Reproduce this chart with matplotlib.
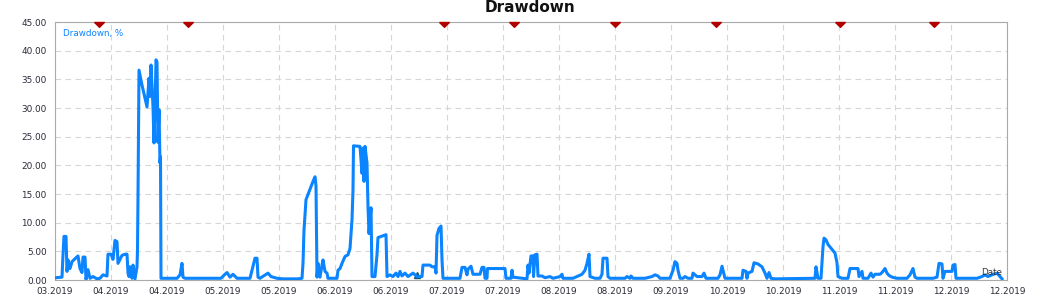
import matplotlib
matplotlib.use("Agg")
import matplotlib.pyplot as plt

# --------- DATA ---------
# sample index along the history (ticks every 56 samples)
dd_x = [1, 7, 8, 9, 11, 12, 13, 15, 17, 23, 25, 27, 28, 30, 31, 33, 35, 38, 42, 45,
        48, 52, 53, 56, 58, 60, 62, 63, 67, 70, 72, 73, 74, 75, 77, 78, 80, 82, 82.5, 83,
        84, 87, 92, 94, 95, 96, 98, 99, 100, 101, 102, 103, 104, 105, 105.5, 106, 122, 125, 127, 128,
        130, 166, 170, 172, 175, 178, 182, 195, 197, 200, 202, 203, 205, 213, 216, 218, 222, 228, 243, 247,
        248, 249, 251, 258, 260, 261, 262, 263, 265, 267, 268, 270, 272, 273, 282, 283, 285, 287, 290, 293,
        295, 297, 298, 298.5, 305, 307, 308, 309, 310, 312, 313, 314, 316, 317, 320, 322, 323, 331, 332, 335,
        338, 341, 343, 345, 347, 350, 353, 358, 362, 367, 368, 375, 377, 380, 381, 382, 384, 386, 387, 388,
        405, 407, 410, 412, 413, 416, 418, 425, 427, 429, 430, 432, 432.5, 450, 451, 456, 457, 458, 472, 473,
        474, 476, 478, 478.5, 480, 482, 483, 487, 490, 495, 498, 505, 507, 508, 518, 523, 527, 530, 532, 534,
        535, 540, 545, 547, 548, 552, 553, 555, 570, 572, 575, 576, 578, 590, 597, 600, 603, 605, 615, 618,
        620, 622, 623, 625, 628, 630, 633, 637, 638, 642, 647, 649, 651, 663, 665, 667, 668, 670, 687, 688,
        691, 692, 693, 697, 699, 703, 707, 710, 712, 714, 716, 720, 760, 761, 763, 766, 768, 769, 771, 773,
        780, 782, 783, 787, 793, 795, 803, 804, 807, 808, 813, 816, 818, 820, 825, 827, 830, 832, 834, 837,
        842, 852, 855, 858, 860, 862, 878, 882, 884, 887, 888, 890, 897, 898, 900, 901, 922, 927, 930, 933,
        937, 942, 945, 947]
dd_y = [0.4, 0.5, 4.4, 7.6, 7.6, 1.5, 3.5, 2.0, 3.2, 4.2, 2.0, 1.3, 4.0, 4.0, 0.1, 1.8, 0.3, 0.6, 0.2, 0.3,
        0.9, 0.7, 4.5, 4.5, 3.6, 6.9, 6.7, 2.9, 4.3, 4.5, 4.5, 1.2, 0.6, 2.3, 0.3, 2.6, 0.2, 2.3, 5.2, 14.5,
        36.6, 34.0, 30.2, 35.2, 32.0, 37.5, 30.2, 23.9, 30.0, 38.4, 38.0, 24.0, 29.7, 20.4, 21.5, 0.3, 0.3, 0.9, 2.9, 0.5,
        0.3, 0.3, 1.0, 1.3, 0.5, 1.0, 0.3, 0.3, 1.7, 3.8, 3.8, 0.5, 0.3, 1.2, 0.6, 0.5, 0.3, 0.2, 0.2, 0.3,
        2.9, 8.7, 14.0, 17.2, 18.0, 16.4, 0.5, 2.9, 0.5, 2.6, 3.5, 1.5, 1.2, 0.3, 0.3, 1.7, 2.0, 2.9, 4.1, 4.4,
        5.5, 10.5, 15.7, 23.4, 23.3, 18.6, 23.0, 17.2, 23.3, 20.4, 12.8, 8.1, 12.6, 0.6, 0.6, 4.4, 7.4, 7.9, 0.6, 0.9,
        0.6, 1.2, 0.6, 1.5, 0.7, 1.2, 0.6, 1.2, 0.6, 0.6, 2.6, 2.6, 2.3, 2.3, 1.2, 7.8, 9.0, 9.4, 3.5, 0.3,
        0.3, 2.2, 2.2, 0.9, 1.9, 2.4, 1.0, 1.0, 2.2, 2.2, 0.3, 0.3, 2.0, 2.0, 0.3, 0.3, 1.7, 0.5, 0.2, 2.6,
        1.2, 4.2, 4.2, 0.6, 4.4, 4.5, 0.7, 0.7, 0.4, 0.6, 0.3, 0.6, 1.0, 0.3, 0.3, 0.7, 1.0, 1.7, 2.9, 4.5,
        0.6, 0.3, 0.3, 1.0, 3.8, 3.8, 0.6, 0.3, 0.3, 0.6, 0.3, 0.7, 0.3, 0.3, 0.6, 0.9, 0.7, 0.3, 0.3, 1.7,
        3.2, 2.9, 1.7, 0.3, 0.3, 0.6, 0.3, 0.3, 1.2, 0.6, 0.6, 1.2, 0.3, 0.3, 0.9, 2.4, 1.7, 0.3, 0.3, 1.7,
        1.5, 0.3, 1.2, 1.5, 3.0, 2.8, 2.3, 1.2, 0.3, 1.3, 0.3, 0.2, 0.3, 2.3, 0.3, 0.3, 5.8, 7.3, 7.0, 6.2,
        4.7, 3.0, 0.6, 0.3, 0.3, 2.0, 2.0, 0.6, 1.5, 0.3, 0.3, 1.2, 0.5, 1.0, 1.0, 1.3, 2.0, 1.2, 0.8, 0.5,
        0.3, 0.3, 0.9, 2.0, 0.5, 0.3, 0.3, 0.5, 2.9, 2.8, 0.3, 1.5, 1.5, 2.6, 2.7, 0.3, 0.3, 0.6, 0.9, 0.6,
        0.9, 1.2, 0.6, 0.2]

# red markers along the top, small marker along the bottom
top_marks = [44, 133, 389, 459, 560, 661, 785, 879]
bottom_marks = [362]

tick_pos = [56 * i for i in range(18)]
tick_labels = ["03.2019", "04.2019", "04.2019", "05.2019", "05.2019", "06.2019",
               "06.2019", "07.2019", "07.2019", "08.2019", "08.2019", "09.2019",
               "10.2019", "10.2019", "11.2019", "11.2019", "12.2019", "12.2019"]
y_ticks = [0, 5, 10, 15, 20, 25, 30, 35, 40, 45]

# --------- PLOT ---------
fig = plt.figure(figsize=(10.37, 3.05), dpi=100)
ax = fig.add_axes([55 / 1037, 1 - 280 / 305, 952 / 1037, 258 / 305])

ax.plot(dd_x, dd_y, color="#0a84ff", linewidth=2.2, zorder=3)

flat_tri = [(-1, 0), (1, 0), (0, -1), (-1, 0)]
ax.plot(top_marks, [45] * len(top_marks), linestyle="none", marker=flat_tri,
        markersize=7, color="#b00000", clip_on=False, zorder=4)
ax.plot(bottom_marks, [0.8] * len(bottom_marks), linestyle="none", marker="^",
        markersize=5, color="#1a5a6a", zorder=2)

ax.set_xlim(0, 952)
ax.set_ylim(0, 45)
ax.set_xticks(tick_pos)
ax.set_xticklabels(tick_labels)
ax.set_yticks(y_ticks)
ax.set_yticklabels([f"{v:.2f}" for v in y_ticks])
ax.tick_params(axis="both", length=0, labelsize=6.4, colors="#2a2a38")
ax.tick_params(axis="y", pad=6)
ax.tick_params(axis="x", pad=5)

ax.grid(True, color="#d6d6d6", linestyle=(0, (5, 4)), linewidth=0.8)
ax.set_axisbelow(True)
for s in ax.spines.values():
    s.set_color("#aaaaaa")
    s.set_linewidth(0.8)

ax.text(0.008, 0.955, "Drawdown, %", transform=ax.transAxes, color="#0a84ff",
        fontsize=6.3, va="center", ha="left")
ax.text(0.995, 0.03, "Date", transform=ax.transAxes, color="#333333",
        fontsize=6.3, va="center", ha="right", zorder=5)

fig.text(530 / 1037, 1 - 12 / 305, "Drawdown", ha="center", va="baseline",
         fontsize=11, fontweight="bold", color="#111111")

fig.savefig("out.png", dpi=100, facecolor="white")
